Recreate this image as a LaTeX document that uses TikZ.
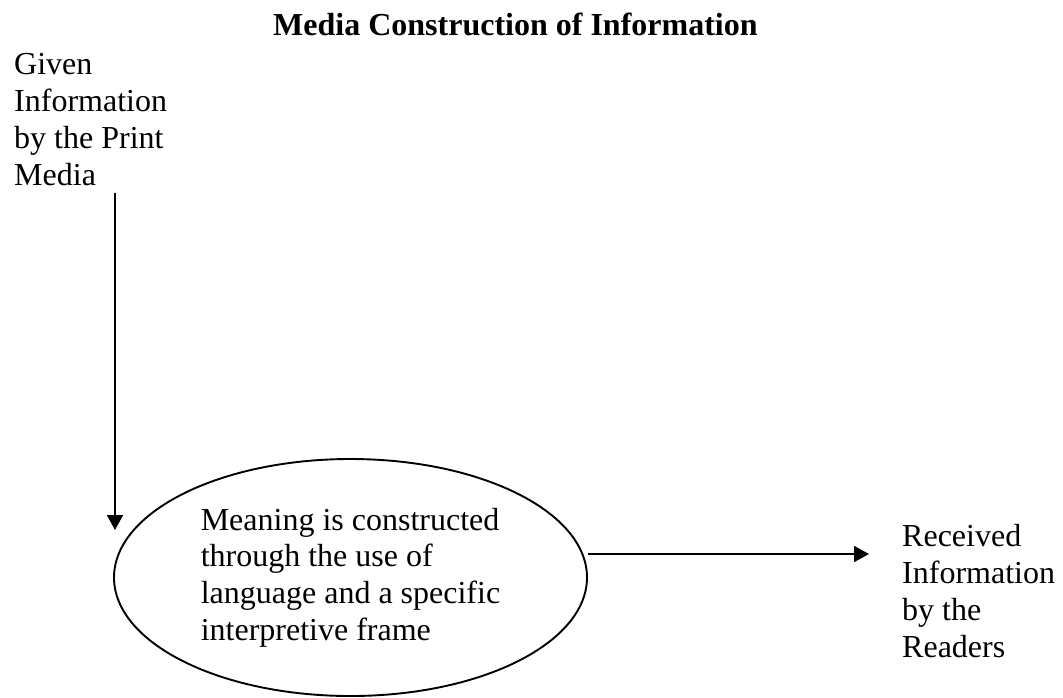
\documentclass[tikz,border=0pt]{standalone}
\usepackage{fontspec}
\setmainfont{Liberation Serif}
\usetikzlibrary{shapes.geometric,arrows.meta}
\tikzset{
  lbl/.style={inner sep=0pt, align=left, font=\fontsize{32}{36.8}\selectfont},
  ttl/.style={inner sep=0pt, font=\fontsize{32}{36.8}\selectfont\bfseries},
  ell/.style={draw, ellipse, line width=1.9pt, minimum width=473pt, minimum height=237pt, inner sep=0pt, align=left, font=\fontsize{32}{36.8}\selectfont},
  conn/.style={line width=1.8pt, -{Triangle[length=15pt,width=16pt]}}
}
\begin{document}
\begin{tikzpicture}[x=1pt,y=-1pt]
\useasboundingbox (0,0) rectangle (1063,697);
\node[ttl, anchor=base west] (title) at (273,35) {Media Construction of Information};
\node[lbl, anchor=base west] (given) at (14,185) {Given\\Information\\by the Print\\Media};
\node[ell] (mean) at (350.5,577.5) {Meaning is constructed\\through the use of\\language and a specific\\interpretive frame};
\node[lbl, anchor=base west] (recv) at (902,657) {Received\\Information\\by the\\Readers};
\coordinate (vtop) at (115,193);
\coordinate (vend) at (115,530);
\coordinate (hend) at (869,554);
\draw[conn] (vtop) -- (vend);
\draw[conn] (mean.east |- hend) -- (hend);
\end{tikzpicture}
\end{document}
